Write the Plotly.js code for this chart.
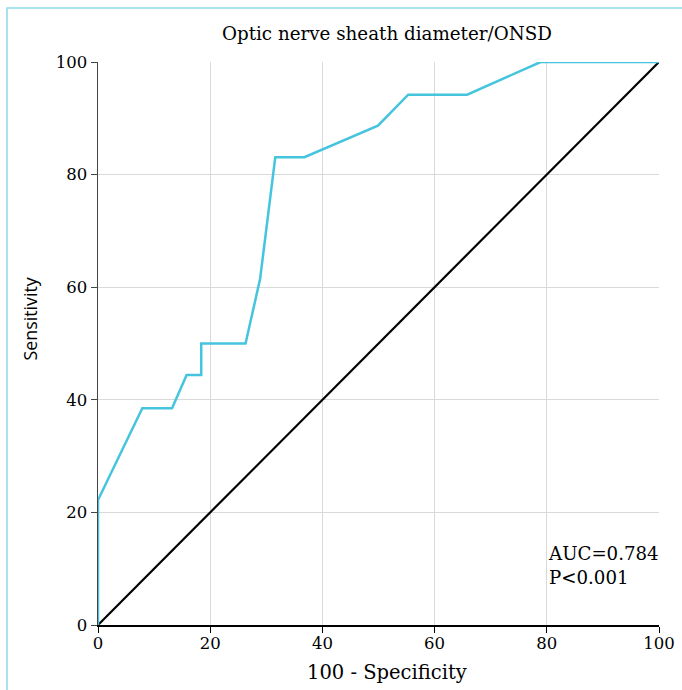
<!DOCTYPE html>
<html><head><meta charset="utf-8">
<script src="https://cdn.plot.ly/plotly-3.0.1.min.js"></script>
<style>body{margin:0;background:#fff}#c{width:682px;height:690px}</style>
</head><body><div id="c"></div>
<script>
var fpr = [0, 0, 7.9, 13.2, 15.8, 18.4, 18.4, 26.3, 28.9, 31.6, 36.8, 49.9, 55.3, 65.8, 78.9, 100];
var sens = [0, 22.2, 38.5, 38.5, 44.4, 44.4, 50.0, 50.0, 61.5, 83.1, 83.1, 88.7, 94.2, 94.2, 100, 100];
var refX = [0, 100];
var refY = [0, 100];
var tickVals = [0, 20, 40, 60, 80, 100];
var titleText = "Optic nerve sheath diameter/ONSD";
var xTitle = "100 - Specificity";
var yTitle = "Sensitivity";
var statText = "AUC=0.784<br>P<0.001";

var serif = "DejaVu Serif, serif";
var traces = [
  {x: refX, y: refY, mode: "lines", line: {color: "#000", width: 2.2}, hoverinfo: "skip"},
  {x: fpr, y: sens, mode: "lines", line: {color: "#45c4dd", width: 2.5}}
];
var layout = {
  width: 682, height: 690,
  margin: {l: 98, r: 23, t: 62, b: 65},
  paper_bgcolor: "#fff", plot_bgcolor: "#fff",
  showlegend: false,
  font: {family: serif, size: 16, color: "#000"},
  title: {text: titleText, x: 0.515, xref: "paper", xanchor: "center", y: 0.952, yanchor: "middle", font: {family: serif, size: 18.3, color: "#000"}},
  xaxis: {range: [0, 100], tickvals: tickVals, showgrid: true, gridcolor: "#d9d9d9", gridwidth: 1,
    zeroline: false, showline: true, linecolor: "#000", linewidth: 1.5, ticks: "outside", ticklen: 6, tickcolor: "#000",
    ticklabelstandoff: -3, tickfont: {family: serif, size: 16.5}},
  yaxis: {range: [0, 100], tickvals: tickVals, showgrid: true, gridcolor: "#d9d9d9", gridwidth: 1,
    zeroline: false, showline: true, linecolor: "#444", linewidth: 1.5, ticks: "outside", ticklen: 6, tickcolor: "#444",
    tickfont: {family: serif, size: 16.5}},
  shapes: [{type: "rect", xref: "paper", yref: "paper", x0: -0.1622, x1: 1.2, y0: -0.2, y1: 1.0959,
    line: {color: "#8ed9ea", width: 1.5}, fillcolor: "rgba(0,0,0,0)", layer: "below"}],
  annotations: [
    {xref: "x", yref: "y", x: 79.9, y: 14.9, xanchor: "left", yanchor: "top", align: "left",
     showarrow: false, text: statText, font: {family: serif, size: 18.2, color: "#000"}},
    {xref: "paper", yref: "paper", x: -0.121, y: 0.543, xanchor: "center", yanchor: "middle", textangle: -90,
     showarrow: false, text: yTitle, font: {family: "Open Sans, sans-serif", size: 17.8, color: "#000"}},
    {xref: "paper", yref: "paper", x: 0.515, y: -0.0835, xanchor: "center", yanchor: "middle",
     showarrow: false, text: xTitle, font: {family: serif, size: 19.5, color: "#000"}}
  ]
};
Plotly.newPlot("c", traces, layout, {displayModeBar: false, staticPlot: true});
</script></body></html>
